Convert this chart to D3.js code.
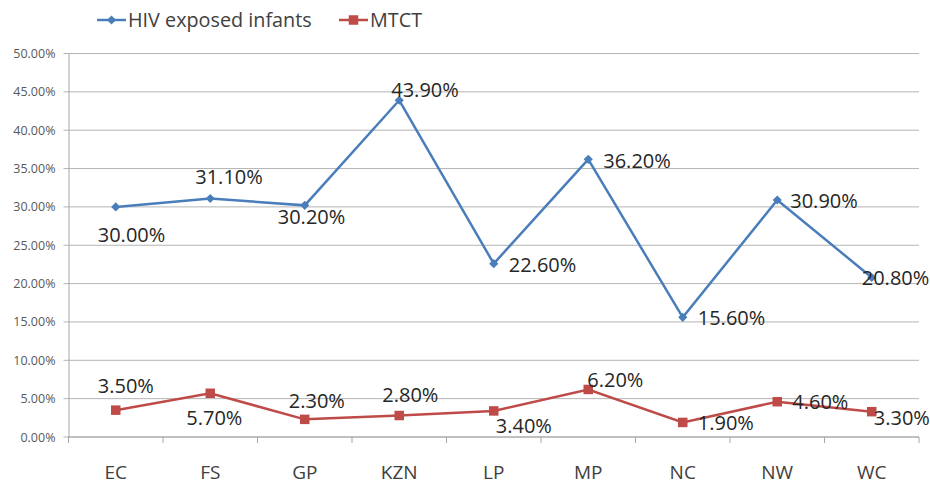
<!DOCTYPE html>
<html>
<head>
<meta charset="utf-8">
<script src="https://cdn.jsdelivr.net/npm/d3@7"></script>
<style>
  body { margin: 0; background: #fff; }
  svg { display: block; font-family: "Open Sans", sans-serif; }
</style>
</head>
<body>
<div class="graph"></div>
<script>
var categories = ['EC', 'FS', 'GP', 'KZN', 'LP', 'MP', 'NC', 'NW', 'WC'];
var hivExposed = [30.0, 31.1, 30.2, 43.9, 22.6, 36.2, 15.6, 30.9, 20.8];
var mtct = [3.5, 5.7, 2.3, 2.8, 3.4, 6.2, 1.9, 4.6, 3.3];
var yTicks = [0, 5, 10, 15, 20, 25, 30, 35, 40, 45, 50];

// label offsets from the point (text start, baseline), like excel placed them
var hivLabelOffset = [[-18, 35], [-15, -14], [-27, 19], [-8, -3], [15, 8], [15, 9], [15, 8], [13, 8], [-10, 8]];
var mtctLabelOffset = [[-18, -17], [-24, 32], [-16, -11], [-17, -14], [2, 22], [-1, -2], [15, 8], [15, 7], [2, 13]];

var width = 930,
    height = 485;
var plotLeft = 68.5, plotRight = 919, plotTop = 53.5, plotBottom = 437;

var blue = '#4a7ebb', red = '#be4b48';

var svg = d3.select('.graph')
  .append('svg')
  .attr('width', width)
  .attr('height', height);

var xScale = d3.scaleBand()
  .domain(categories)
  .range([plotLeft, plotRight])
  .padding(0);

var yScale = d3.scaleLinear()
  .domain([0, 50])
  .range([plotBottom, plotTop]);

// gridlines
svg.append('g')
  .selectAll('line')
  .data(yTicks)
  .enter()
  .append('line')
  .attr('x1', plotLeft - 5)
  .attr('x2', plotRight)
  .attr('y1', d => yScale(d))
  .attr('y2', d => yScale(d))
  .attr('stroke', '#b4b4b4')
  .attr('stroke-width', 1);

// y axis
var yAxis = d3.axisLeft(yScale)
  .tickValues(yTicks)
  .tickSize(0)
  .tickPadding(13)
  .tickFormat(d => d.toFixed(2) + '%');

var yAxisGroup = svg.append('g')
  .attr('transform', 'translate(' + plotLeft + ',0)')
  .call(yAxis);
yAxisGroup.select('.domain').attr('stroke', '#a6a6a6');
yAxisGroup.selectAll('text')
  .attr('fill', '#595959')
  .style('font-size', '12.5px')
  .style('font-family', '"Open Sans", sans-serif');

// x axis with ticks between categories
var xAxisGroup = svg.append('g')
  .attr('transform', 'translate(0,' + plotBottom + ')');
xAxisGroup.append('line')
  .attr('x1', plotLeft)
  .attr('x2', plotRight)
  .attr('stroke', '#a6a6a6');
xAxisGroup.selectAll('.tk')
  .data(categories.concat(['end']))
  .enter()
  .append('line')
  .attr('class', 'tk')
  .attr('x1', (d, i) => i < categories.length ? xScale(d) : plotRight)
  .attr('x2', (d, i) => i < categories.length ? xScale(d) : plotRight)
  .attr('y1', 0)
  .attr('y2', 6)
  .attr('stroke', '#a6a6a6');
xAxisGroup.selectAll('.cat')
  .data(categories)
  .enter()
  .append('text')
  .attr('class', 'cat')
  .attr('x', d => xScale(d) + xScale.bandwidth() / 2)
  .attr('y', 42)
  .attr('text-anchor', 'middle')
  .attr('fill', '#404040')
  .style('font-size', '19px')
  .text(d => d);

var cx = d => xScale(d) + xScale.bandwidth() / 2;

var line = d3.line()
  .x((d, i) => cx(categories[i]))
  .y(d => yScale(d));

// excel style markers: diamond is a square turned 45deg
function marker(shape) {
  return shape === 'diamond'
    ? d3.symbol().type(d3.symbolSquare).size(42)()
    : d3.symbol().type(d3.symbolSquare).size(90)();
}
var turn = shape => shape === 'diamond' ? ' rotate(45)' : '';

function drawSeries(values, color, shape) {
  svg.append('path')
    .datum(values)
    .attr('d', line)
    .attr('fill', 'none')
    .attr('stroke', color)
    .attr('stroke-width', 2.5);

  svg.append('g')
    .selectAll('path')
    .data(values)
    .enter()
    .append('path')
    .attr('d', marker(shape))
    .attr('transform', (d, i) => 'translate(' + cx(categories[i]) + ',' + yScale(d) + ')' + turn(shape))
    .attr('fill', color);
}

function drawLabels(values, offsets) {
  svg.append('g')
    .selectAll('text')
    .data(values)
    .enter()
    .append('text')
    .attr('x', (d, i) => cx(categories[i]) + offsets[i][0])
    .attr('y', (d, i) => yScale(d) + offsets[i][1])
    .attr('fill', '#262626')
    .style('font-size', '20px')
    .text(d => d.toFixed(2) + '%');
}

drawSeries(hivExposed, blue, 'diamond');
drawSeries(mtct, red, 'square');
drawLabels(hivExposed, hivLabelOffset);
drawLabels(mtct, mtctLabelOffset);

// legend
var legend = [
  { name: 'HIV exposed infants', color: blue, shape: 'diamond', x: 97 },
  { name: 'MTCT', color: red, shape: 'square', x: 339 }
];
var lg = svg.append('g').selectAll('g')
  .data(legend)
  .enter()
  .append('g')
  .attr('transform', d => 'translate(' + d.x + ',20)');
lg.append('line')
  .attr('x1', 0)
  .attr('x2', 29)
  .attr('stroke', d => d.color)
  .attr('stroke-width', 2.5);
lg.append('path')
  .attr('d', d => marker(d.shape))
  .attr('transform', d => 'translate(14.5,0)' + turn(d.shape))
  .attr('fill', d => d.color);
lg.append('text')
  .attr('x', 31)
  .attr('y', 7)
  .attr('fill', '#404040')
  .style('font-size', '19.8px')
  .text(d => d.name);
</script>
</body>
</html>
